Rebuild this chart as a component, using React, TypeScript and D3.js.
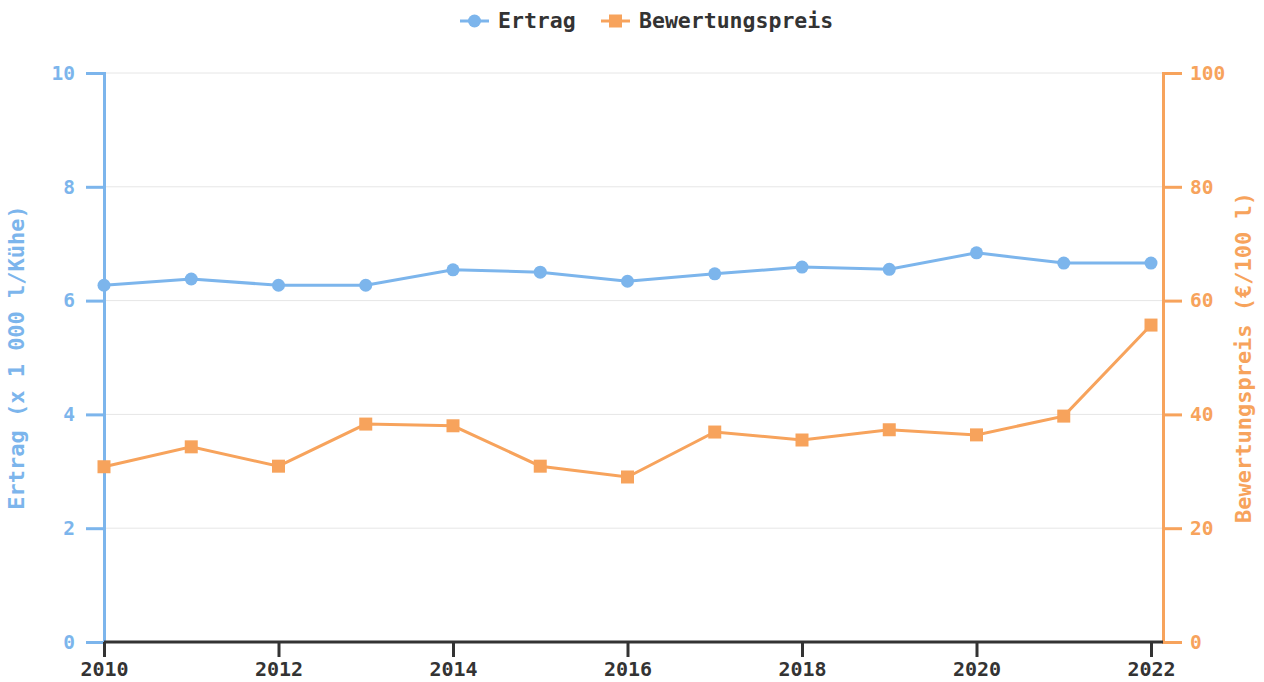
import React, { useEffect, useRef } from "react";
import * as d3 from "d3";

const years = [2010, 2011, 2012, 2013, 2014, 2015, 2016, 2017, 2018, 2019, 2020, 2021, 2022];
const ertrag = [6.27, 6.38, 6.27, 6.27, 6.54, 6.5, 6.34, 6.47, 6.59, 6.55, 6.84, 6.66, 6.66];
const preis = [30.8, 34.3, 30.9, 38.3, 38.0, 30.9, 29.0, 36.9, 35.5, 37.3, 36.4, 39.7, 55.7];
const leftTicks = [0, 2, 4, 6, 8, 10];
const rightTicks = [0, 20, 40, 60, 80, 100];
const xTicks = [2010, 2012, 2014, 2016, 2018, 2020, 2022];

const BLUE = "#7cb5ec";
const ORANGE = "#f7a35c";
const FONT = "'DejaVu Sans Mono', monospace";

const App = () => {
  const svgRef = useRef<SVGSVGElement>(null);

  useEffect(() => {
    const svg = d3.select(svgRef.current);
    svg.selectAll("*").remove();

    const left = 104;
    const right = 1163;
    const top = 73;
    const bottom = 642;

    const x = d3.scaleLinear().domain([2010, 2022]).range([left, 1151]);
    const yL = d3.scaleLinear().domain([0, 10]).range([bottom, top]);
    const yR = d3.scaleLinear().domain([0, 100]).range([bottom, top]);

    // Gitterlinien
    svg
      .append("g")
      .selectAll("line")
      .data(leftTicks)
      .enter()
      .append("line")
      .attr("x1", left)
      .attr("x2", right)
      .attr("y1", (d) => yL(d))
      .attr("y2", (d) => yL(d))
      .attr("stroke", "#e6e6e6")
      .attr("stroke-width", 1);

    // Linke Achse
    const gl = svg.append("g").attr("transform", `translate(${left},0)`);
    gl.call(d3.axisLeft(yL).tickValues(leftTicks).tickSize(18).tickPadding(11));
    gl.select(".domain").attr("stroke", BLUE).attr("stroke-width", 3);
    gl.selectAll(".tick line").attr("stroke", BLUE).attr("stroke-width", 3);
    gl.selectAll(".tick text")
      .attr("fill", BLUE)
      .style("font-family", FONT)
      .style("font-size", "19.5px")
      .style("font-weight", "bold");

    // Rechte Achse
    const gr = svg.append("g").attr("transform", `translate(${right},0)`);
    gr.call(d3.axisRight(yR).tickValues(rightTicks).tickSize(19).tickPadding(8));
    gr.select(".domain").attr("stroke", ORANGE).attr("stroke-width", 3);
    gr.selectAll(".tick line").attr("stroke", ORANGE).attr("stroke-width", 3);
    gr.selectAll(".tick text")
      .attr("fill", ORANGE)
      .style("font-family", FONT)
      .style("font-size", "19.5px")
      .style("font-weight", "bold");

    // X-Achse
    const gx = svg.append("g").attr("transform", `translate(0,${bottom})`);
    gx.call(
      d3.axisBottom(x).tickValues(xTicks).tickFormat(d3.format("d")).tickSize(15).tickPadding(5)
    );
    gx.select(".domain").remove();
    gx.append("line")
      .attr("x1", left)
      .attr("x2", right)
      .attr("stroke", "#333")
      .attr("stroke-width", 3);
    gx.selectAll(".tick line").attr("stroke", "#333").attr("stroke-width", 3);
    gx.selectAll(".tick text")
      .attr("fill", "#333")
      .style("font-family", FONT)
      .style("font-size", "20px")
      .style("font-weight", "bold");

    // Achsentitel
    svg
      .append("text")
      .attr("transform", `translate(24,${(top + bottom) / 2}) rotate(-90)`)
      .attr("text-anchor", "middle")
      .attr("fill", BLUE)
      .style("font-family", FONT)
      .style("font-size", "22px")
      .style("font-weight", "bold")
      .text("Ertrag (x 1 000 l/Kühe)");

    svg
      .append("text")
      .attr("transform", `translate(1251,${(top + bottom) / 2}) rotate(-90)`)
      .attr("text-anchor", "middle")
      .attr("fill", ORANGE)
      .style("font-family", FONT)
      .style("font-size", "22px")
      .style("font-weight", "bold")
      .text("Bewertungspreis (€/100 l)");

    // Linien
    const lineL = d3
      .line<number>()
      .x((_, i) => x(years[i]))
      .y((d) => yL(d));
    const lineR = d3
      .line<number>()
      .x((_, i) => x(years[i]))
      .y((d) => yR(d));

    svg
      .append("path")
      .datum(ertrag)
      .attr("d", lineL)
      .attr("fill", "none")
      .attr("stroke", BLUE)
      .attr("stroke-width", 3);

    svg
      .append("path")
      .datum(preis)
      .attr("d", lineR)
      .attr("fill", "none")
      .attr("stroke", ORANGE)
      .attr("stroke-width", 3);

    svg
      .append("g")
      .selectAll("circle")
      .data(ertrag)
      .enter()
      .append("circle")
      .attr("cx", (_, i) => x(years[i]))
      .attr("cy", (d) => yL(d))
      .attr("r", 6.5)
      .attr("fill", BLUE);

    svg
      .append("g")
      .selectAll("rect")
      .data(preis)
      .enter()
      .append("rect")
      .attr("x", (_, i) => x(years[i]) - 6.5)
      .attr("y", (d) => yR(d) - 6.5)
      .attr("width", 13)
      .attr("height", 13)
      .attr("fill", ORANGE);

    // Legende
    const legend = [
      { name: "Ertrag", color: BLUE, x: 460, shape: "circle" },
      { name: "Bewertungspreis", color: ORANGE, x: 601, shape: "rect" },
    ];
    const lg = svg.selectAll(".legend").data(legend).enter().append("g");
    lg.append("line")
      .attr("x1", (d) => d.x)
      .attr("x2", (d) => d.x + 29)
      .attr("y1", 21)
      .attr("y2", 21)
      .attr("stroke", (d) => d.color)
      .attr("stroke-width", 3);
    lg.filter((d) => d.shape === "circle")
      .append("circle")
      .attr("cx", (d) => d.x + 14.5)
      .attr("cy", 21)
      .attr("r", 6.5)
      .attr("fill", (d) => d.color);
    lg.filter((d) => d.shape === "rect")
      .append("rect")
      .attr("x", (d) => d.x + 8)
      .attr("y", 14.5)
      .attr("width", 13)
      .attr("height", 13)
      .attr("fill", (d) => d.color);
    lg.append("text")
      .attr("x", (d) => d.x + 38)
      .attr("y", 28)
      .attr("fill", "#333")
      .style("font-family", FONT)
      .style("font-size", "21.5px")
      .style("font-weight", "bold")
      .text((d) => d.name);
  }, []);

  return (
    <svg
      ref={svgRef}
      width={1264}
      height={682}
      style={{ position: "absolute", left: 0, top: 0, background: "#fff" }}
    ></svg>
  );
};

export default App;
